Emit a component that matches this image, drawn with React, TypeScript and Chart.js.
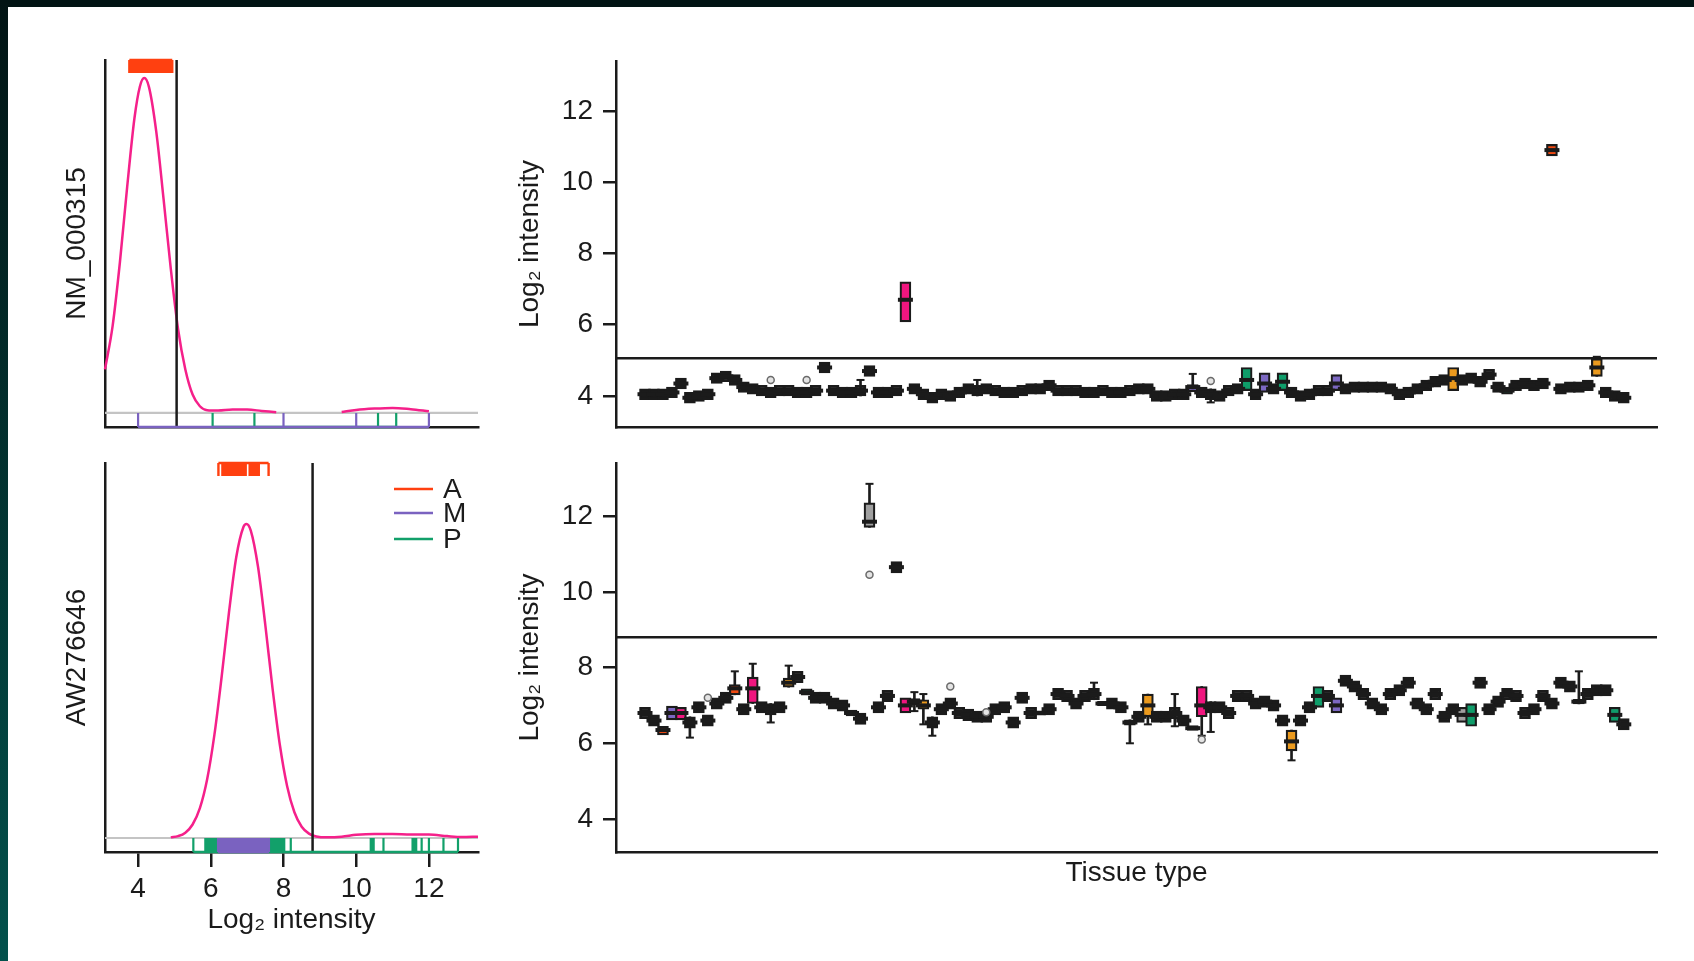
import React, { useEffect, useRef } from "react";
import { Chart, registerables } from "chart.js";

Chart.register(...registerables);

const FONT = "'Liberation Sans', Arial, Helvetica, sans-serif";
Chart.defaults.font.family = FONT;

// ---------------- data ----------------
const geneTop = "NM_000315";
const geneBottom = "AW276646";
const legendLabels = ["A", "M", "P"];
const densityTickValues = [4, 6, 8, 10, 12];
const intensityTickValues = [4, 6, 8, 10, 12];
const axisLabel = "Log\u2082 intensity";
const tissueLabel = "Tissue type";

const topThreshold = 5.06;
const bottomThreshold = 8.8;

// density curves (x = log2 intensity, y = relative density)
const topDensX = [3.09, 3.3, 3.5, 3.7, 3.9, 4.05, 4.17, 4.3, 4.5, 4.7, 4.9, 5.1, 5.3, 5.5, 5.7, 5.9, 6.2, 6.6, 7.0, 7.4, 7.8, 8.7, 9.6, 10.0, 10.5, 11.0, 11.5, 12.0];
const topDensY = [0.13, 0.26, 0.45, 0.675, 0.88, 0.975, 1.0, 0.973, 0.84, 0.64, 0.43, 0.25, 0.13, 0.055, 0.02, 0.008, 0.007, 0.01, 0.01, 0.006, 0.002, null, 0.003, 0.009, 0.013, 0.015, 0.011, 0.005];
const botDensX = [4.9, 5.1, 5.3, 5.5, 5.7, 5.9, 6.1, 6.3, 6.5, 6.7, 6.9, 6.98, 7.1, 7.3, 7.5, 7.7, 7.9, 8.1, 8.3, 8.5, 8.7, 8.9, 9.2, 9.6, 10.0, 10.5, 11.0, 11.5, 12.0, 12.5, 12.9, 13.35];
const botDensY = [0.002, 0.006, 0.017, 0.043, 0.095, 0.187, 0.329, 0.515, 0.718, 0.894, 0.991, 1.0, 0.979, 0.863, 0.678, 0.475, 0.296, 0.165, 0.082, 0.036, 0.014, 0.005, 0.002, 0.004, 0.01, 0.013, 0.013, 0.011, 0.011, 0.006, 0.003, 0.004];

// rug marks (A = absent, M = marginal, P = present)
const topRugA = [3.76, 3.81, 3.86, 3.9, 3.95, 4.0, 4.05, 4.1, 4.15, 4.2, 4.25, 4.3, 4.35, 4.4, 4.45, 4.5, 4.55, 4.6, 4.65, 4.7, 4.75, 4.8, 4.85, 4.9, 4.94];
const topRugM = [4.0, 8.0, 10.0, 12.0];
const topRugP = [6.05, 7.2, 10.6, 11.1];
const botRugA = [6.21, 6.32, 6.37, 6.42, 6.47, 6.52, 6.57, 6.62, 6.67, 6.72, 6.77, 6.82, 6.87, 6.92, 6.96, 7.07, 7.12, 7.17, 7.22, 7.27, 7.32, 7.59];
const botRugM = [6.2, 6.25, 6.3, 6.35, 6.4, 6.45, 6.5, 6.55, 6.6, 6.65, 6.7, 6.75, 6.8, 6.85, 6.9, 6.95, 7.0, 7.05, 7.1, 7.15, 7.2, 7.25, 7.3, 7.35, 7.4, 7.45, 7.5, 7.55, 7.6];
const botRugP = [5.52, 5.85, 5.9, 5.95, 6.0, 6.05, 6.1, 6.15, 7.62, 7.67, 7.72, 7.77, 7.82, 7.87, 7.92, 7.97, 8.02, 8.2, 10.4, 10.44, 10.48, 10.75, 11.55, 11.6, 11.65, 11.8, 12.0, 12.4, 12.8];

// box plots per tissue type (index 0..109)
const topMedian = [4.05,4.05,4.05,4.1,4.35,3.95,4.0,4.05,4.5,4.55, 4.45,4.25,4.2,4.15,4.1,4.15,4.15,4.1,4.1,4.15, 4.8,4.15,4.1,4.1,4.15,4.7,4.1,4.1,4.15,6.7, 4.2,4.05,3.95,4.05,4.0,4.1,4.2,4.15,4.2,4.15, 4.1,4.1,4.15,4.2,4.2,4.3,4.15,4.15,4.15,4.1, 4.1,4.15,4.1,4.1,4.15,4.2,4.2,4.0,4.0,4.05, 4.05,4.25,4.1,4.05,4.0,4.15,4.2,4.45,4.05,4.35, 4.2,4.4,4.1,4.0,4.05,4.15,4.15,4.35,4.2,4.25, 4.25,4.25,4.25,4.2,4.05,4.1,4.2,4.3,4.4,4.45, 4.5,4.45,4.5,4.4,4.6,4.25,4.15,4.3,4.35,4.3, 4.35,10.9,4.2,4.25,4.25,4.3,4.8,4.1,4.0,3.95];
const topQ1 = [3.9,3.9,3.9,3.95,4.2,3.8,3.85,3.9,4.35,4.4, 4.3,4.1,4.05,4.0,3.95,4.0,4.0,3.95,3.95,4.0, 4.65,4.0,3.95,3.95,4.0,4.55,3.95,3.95,4.0,6.08, 4.05,3.9,3.8,3.9,3.85,3.95,4.05,4.0,4.05,4.0, 3.95,3.95,4.0,4.05,4.05,4.15,4.0,4.0,4.0,3.95, 3.95,4.0,3.95,3.95,4.0,4.05,4.05,3.85,3.85,3.9, 3.9,4.12,3.95,3.9,3.85,4.0,4.05,4.15,3.9,4.1, 4.05,4.15,3.95,3.85,3.9,4.0,4.0,4.15,4.05,4.1, 4.1,4.1,4.1,4.05,3.9,3.95,4.05,4.15,4.25,4.3, 4.15,4.3,4.35,4.25,4.45,4.1,4.05,4.15,4.2,4.15, 4.2,10.74,4.05,4.1,4.1,4.15,4.55,3.95,3.85,3.8];
const topQ3 = [4.2,4.2,4.2,4.25,4.5,4.1,4.15,4.2,4.65,4.7, 4.6,4.4,4.35,4.3,4.25,4.3,4.3,4.25,4.25,4.3, 4.95,4.3,4.25,4.25,4.3,4.85,4.25,4.25,4.3,7.2, 4.35,4.2,4.1,4.2,4.15,4.25,4.35,4.3,4.35,4.3, 4.25,4.25,4.3,4.35,4.35,4.45,4.3,4.3,4.3,4.25, 4.25,4.3,4.25,4.25,4.3,4.35,4.35,4.15,4.15,4.2, 4.2,4.32,4.25,4.2,4.15,4.3,4.35,4.8,4.2,4.65, 4.35,4.65,4.25,4.15,4.2,4.3,4.3,4.6,4.35,4.4, 4.4,4.4,4.4,4.35,4.2,4.25,4.35,4.45,4.55,4.6, 4.8,4.6,4.65,4.55,4.75,4.4,4.25,4.45,4.5,4.45, 4.5,11.06,4.35,4.4,4.4,4.45,5.05,4.25,4.15,4.1];
const topColorIdx = [29, 61, 67, 69, 71, 77, 90, 96, 101, 106];
const topColorFill = ["pink", "purple", "green", "purple", "green", "purple", "orange", "green", "red", "orange"];
const topWhiskerIdx = [24, 37, 61, 63, 106];
const topWhiskerLo = [null, null, null, 3.82, null];
const topWhiskerHi = [4.45, 4.45, 4.62, null, 5.1];
const topOutlierIdx = [14, 18, 63];
const topOutlierVal = [4.45, 4.45, 4.42];

const botMedian = [6.8,6.6,6.35,6.8,6.8,6.55,6.95,6.6,7.05,7.2, 7.45,6.9,7.45,6.95,6.9,6.95,7.6,7.75,7.35,7.2, 7.2,7.05,7.0,6.8,6.65,11.85,6.95,7.25,10.65,7.0, 7.1,7.0,6.55,6.9,7.05,6.8,6.75,6.7,6.7,6.9, 6.95,6.55,7.2,6.8,6.8,6.9,7.3,7.25,7.05,7.25, 7.3,7.05,7.05,6.95,6.55,6.7,7.0,6.7,6.7,6.8, 6.6,6.4,7.0,6.95,6.95,6.8,7.25,7.25,7.05,7.1, 7.0,6.6,6.05,6.6,6.95,7.25,7.25,7.0,7.65,7.5, 7.3,7.05,6.9,7.3,7.4,7.6,7.05,6.9,7.3,6.7, 6.9,6.75,6.75,7.6,6.9,7.1,7.3,7.25,6.8,6.9, 7.25,7.05,7.6,7.5,7.1,7.3,7.4,7.4,6.75,6.5];
const botQ1 = [6.65,6.45,6.22,6.62,6.62,6.4,6.8,6.45,6.9,7.05, 7.28,6.75,7.05,6.8,6.75,6.8,7.48,7.6,7.27,7.05, 7.05,6.9,6.85,6.72,6.5,11.7,6.8,7.1,10.5,6.8, 7.02,6.9,6.4,6.75,6.9,6.65,6.6,6.55,6.55,6.75, 6.8,6.4,7.05,6.65,6.74,6.75,7.15,7.1,6.9,7.1, 7.15,6.99,6.9,6.8,6.48,6.55,6.7,6.55,6.55,6.65, 6.45,6.34,6.7,6.8,6.8,6.65,7.1,7.1,6.9,6.95, 6.85,6.45,5.8,6.45,6.8,6.95,7.1,6.8,7.5,7.35, 7.15,6.9,6.75,7.15,7.25,7.45,6.9,6.75,7.15,6.55, 6.75,6.55,6.45,7.45,6.75,6.95,7.15,7.1,6.65,6.75, 7.1,6.9,7.45,7.35,7.04,7.15,7.25,7.25,6.55,6.35];
const botQ3 = [6.95,6.75,6.45,6.98,6.95,6.7,7.1,6.75,7.2,7.35, 7.55,7.05,7.75,7.1,7.05,7.1,7.72,7.9,7.44,7.35, 7.35,7.2,7.15,6.88,6.8,12.35,7.1,7.4,10.8,7.2, 7.18,7.15,6.7,7.05,7.2,6.95,6.9,6.85,6.85,7.05, 7.1,6.7,7.35,6.95,6.86,7.05,7.45,7.4,7.2,7.4, 7.45,7.11,7.2,7.1,6.62,6.85,7.3,6.85,6.85,6.95, 6.75,6.47,7.5,7.1,7.1,6.95,7.4,7.4,7.2,7.25, 7.15,6.75,6.35,6.75,7.1,7.5,7.4,7.2,7.8,7.65, 7.45,7.2,7.05,7.45,7.55,7.75,7.2,7.05,7.45,6.85, 7.05,6.95,7.05,7.75,7.05,7.25,7.45,7.4,6.95,7.05, 7.4,7.2,7.75,7.65,7.16,7.45,7.55,7.55,6.95,6.65];
const botColorIdx = [2, 3, 4, 10, 12, 16, 18, 23, 25, 29, 30, 31, 44, 51, 54, 56, 61, 62, 72, 75, 77, 91, 92, 104, 108];
const botColorFill = ["red", "purple", "pink", "red", "pink", "orange", "green", "orange", "gray", "pink", "green", "orange", "purple", "green", "pink", "orange", "purple", "pink", "orange", "green", "purple", "gray", "green", "green", "green"];
const botWhiskerIdx = [5, 10, 12, 14, 16, 25, 30, 31, 32, 50, 54, 56, 59, 62, 63, 72, 104];
const botWhiskerLo = [6.15, null, null, 6.55, null, null, 6.85, 6.5, 6.2, null, 6.0, 6.5, 6.45, 6.2, 6.3, 5.55, null];
const botWhiskerHi = [null, 7.9, 8.1, null, 8.05, 12.85, 7.35, 7.3, null, 7.6, null, null, 7.3, null, null, null, 7.9];
const botOutlierIdx = [7, 25, 34, 38, 62];
const botOutlierVal = [7.2, 10.45, 7.5, 6.82, 6.1];

// ---------------- styles ----------------
const INK = "#1b1b1b";
const PINK_LINE = "#f5208a";
const RUG_A = "#ff4010";
const RUG_M = "#7a62c0";
const RUG_P = "#12a06a";
const BASE_GRAY = "#c4c4c4";
const PALETTE: Record<string, string> = {
  pink: "#f0167f",
  purple: "#7c68c2",
  green: "#0f9d6a",
  orange: "#eb9a1e",
  red: "#f04a12",
  gray: "#a0a0a0",
};
const TICK_FONT = { family: FONT, size: 28 };

const D_XMIN = 3.09;
const D_XMAX = 13.35;
const B_YMIN = 3.13;
const B_YMAX = 13.4;
const C_XMIN = -3.23;
const C_XMAX = 112.7;

function fixSize(w: number | null, h: number | null) {
  return (s: any) => {
    if (w !== null) s.width = w;
    if (h !== null) s.height = h;
    s.paddingLeft = 0;
    s.paddingRight = 0;
    s.paddingTop = 0;
    s.paddingBottom = 0;
  };
}

const legendPlugin = {
  id: "ampLegend",
  afterDatasetsDraw(chart: any) {
    const { ctx, chartArea } = chart;
    const colors = [RUG_A, RUG_M, RUG_P];
    const offsets = [26, 50, 76];
    ctx.save();
    ctx.font = `28px ${FONT}`;
    ctx.textBaseline = "middle";
    ctx.textAlign = "left";
    legendLabels.forEach((lab, k) => {
      const y = chartArea.top + offsets[k];
      ctx.strokeStyle = colors[k];
      ctx.lineWidth = 2.5;
      ctx.beginPath();
      ctx.moveTo(chartArea.right - 84, y);
      ctx.lineTo(chartArea.right - 45, y);
      ctx.stroke();
      ctx.fillStyle = INK;
      ctx.fillText(lab, chartArea.right - 35, y + 1);
    });
    ctx.restore();
  },
};

function densityConfig(p: any) {
  const pts = p.dx.map((x: number, i: number) => ({ x, y: p.dy[i] }));
  const ticks = (vals: number[], y0: number, y1: number) =>
    vals.flatMap((v) => [{ x: v, y: y0 }, { x: v, y: y1 }, { x: v, y: null }]);
  const hline = (vals: number[], y: number) => [
    { x: Math.min(...vals), y },
    { x: Math.max(...vals), y },
  ];
  const line = (data: any[], color: string, width: number, extra: any = {}) => ({
    type: "line",
    data,
    borderColor: color,
    borderWidth: width,
    pointRadius: 0,
    spanGaps: false,
    clip: false,
    tension: 0,
    ...extra,
  });
  const datasets = [
    line(ticks(p.rugA, p.ymax, p.aBottom), RUG_A, 2.4),
    line(hline(p.rugA, p.ymax), RUG_A, 2.4),
    line(hline(p.rugM, p.ymin), RUG_M, 2.5),
    line(ticks(p.rugM, p.ymin, 0), RUG_M, 2.2),
    line(hline(p.rugP, p.ymin), RUG_P, 2.5),
    line(ticks(p.rugP, p.ymin, 0), RUG_P, 2.2),
    line([{ x: p.threshold, y: p.ymin }, { x: p.threshold, y: p.ymax }], INK, 2.5),
    line(pts, PINK_LINE, 2.5, { cubicInterpolationMode: "monotone" }),
    line([{ x: D_XMIN, y: 0 }, { x: D_XMAX, y: 0 }], BASE_GRAY, 2.2),
  ];
  return {
    type: "line",
    data: { datasets },
    options: {
      animation: false,
      responsive: false,
      events: [],
      layout: { padding: { top: p.padTop, right: 22, left: 0, bottom: 0 } },
      plugins: { legend: { display: false }, tooltip: { enabled: false } },
      scales: {
        x: {
          type: "linear",
          min: D_XMIN,
          max: D_XMAX,
          afterBuildTicks: (s: any) => {
            s.ticks = densityTickValues.map((v) => ({ value: v }));
          },
          grid: {
            display: p.showTicks,
            drawOnChartArea: false,
            drawTicks: true,
            tickLength: 15,
            color: INK,
            lineWidth: 2.5,
          },
          border: { display: true, color: INK, width: 2.5 },
          ticks: {
            display: p.showTicks,
            autoSkip: false,
            maxRotation: 0,
            font: TICK_FONT,
            color: INK,
            padding: 5,
          },
          title: {
            display: p.showTicks,
            text: axisLabel,
            font: TICK_FONT,
            color: INK,
            padding: { top: 0, bottom: 24 },
          },
          afterFit: fixSize(null, p.xHeight),
        },
        y: {
          type: "linear",
          min: p.ymin,
          max: p.ymax,
          grid: { display: false },
          border: { display: true, color: INK, width: 2.5 },
          ticks: { display: false },
          title: {
            display: true,
            text: p.gene,
            font: TICK_FONT,
            color: INK,
            padding: { top: 60, bottom: 0 },
          },
          afterFit: fixSize(105, null),
        },
      },
    },
    plugins: p.legend ? [legendPlugin] : [],
  };
}

function boxConfig(p: any) {
  const idx = p.median.map((_: number, i: number) => i);
  const fills = idx.map((i: number) => {
    const k = p.colorIdx.indexOf(i);
    return k >= 0 ? PALETTE[p.colorFill[k]] : INK;
  });
  const boxes = idx.map((i: number) => ({ x: i, y: [p.q1[i], p.q3[i]] }));
  const medians = idx.map((i: number) => ({ x: i, y: p.median[i] }));
  const whiskers = p.whIdx.map((i: number, k: number) => ({
    x: i,
    y: [p.whLo[k] ?? p.q1[i], p.whHi[k] ?? p.q3[i]],
  }));
  const caps: any[] = [];
  p.whIdx.forEach((i: number, k: number) => {
    if (p.whLo[k] != null) caps.push({ x: i, y: p.whLo[k] });
    if (p.whHi[k] != null) caps.push({ x: i, y: p.whHi[k] });
  });
  const outliers = p.outIdx.map((i: number, k: number) => ({ x: i, y: p.outVal[k] }));
  const datasets = [
    {
      type: "scatter",
      data: outliers,
      pointStyle: "circle",
      pointRadius: 3.5,
      pointBackgroundColor: "#e4e4e4",
      pointBorderColor: "#6a6a6a",
      pointBorderWidth: 1.5,
    },
    {
      type: "scatter",
      data: medians,
      pointStyle: "line",
      pointRadius: 7.5,
      pointBorderWidth: 4,
      pointBorderColor: INK,
    },
    {
      type: "bar",
      data: boxes,
      backgroundColor: fills,
      borderColor: INK,
      borderWidth: 2.2,
      borderSkipped: false,
      barThickness: 11,
      grouped: false,
    },
    {
      type: "scatter",
      data: caps,
      pointStyle: "line",
      pointRadius: 4,
      pointBorderWidth: 2,
      pointBorderColor: INK,
    },
    {
      type: "bar",
      data: whiskers,
      backgroundColor: INK,
      borderWidth: 0,
      barThickness: 2,
      grouped: false,
    },
    {
      type: "line",
      data: [{ x: C_XMIN, y: p.threshold }, { x: C_XMAX, y: p.threshold }],
      borderColor: INK,
      borderWidth: 2.5,
      pointRadius: 0,
      clip: false,
    },
  ];
  return {
    type: "bar",
    data: { datasets },
    options: {
      animation: false,
      responsive: false,
      events: [],
      layout: { padding: { top: p.padTop, right: 37, left: 0, bottom: 0 } },
      plugins: { legend: { display: false }, tooltip: { enabled: false } },
      scales: {
        x: {
          type: "linear",
          min: C_XMIN,
          max: C_XMAX,
          offset: false,
          grid: { display: false, offset: false },
          border: { display: true, color: INK, width: 2.5 },
          ticks: { display: false },
          title: {
            display: p.showTitle,
            text: tissueLabel,
            font: TICK_FONT,
            color: INK,
            padding: { top: 0, bottom: 71 },
          },
          afterFit: fixSize(null, p.xHeight),
        },
        y: {
          type: "linear",
          min: B_YMIN,
          max: B_YMAX,
          beginAtZero: false,
          afterBuildTicks: (s: any) => {
            s.ticks = intensityTickValues.map((v) => ({ value: v }));
          },
          grid: {
            display: true,
            drawOnChartArea: false,
            drawTicks: true,
            tickLength: 13,
            color: INK,
            lineWidth: 2.5,
          },
          border: { display: true, color: INK, width: 2.5 },
          ticks: { autoSkip: false, font: TICK_FONT, color: INK, padding: 10 },
          title: {
            display: true,
            text: axisLabel,
            font: TICK_FONT,
            color: INK,
            padding: { top: 13, bottom: 0 },
          },
          afterFit: fixSize(116, null),
        },
      },
    },
  };
}

const topDensityPanel = {
  dx: topDensX, dy: topDensY, rugA: topRugA, rugM: topRugM, rugP: topRugP,
  ymin: -0.042, ymax: 1.054, aBottom: 1.015, threshold: topThreshold,
  gene: geneTop, showTicks: false, legend: false, padTop: 60, xHeight: 13,
};
const botDensityPanel = {
  dx: botDensX, dy: botDensY, rugA: botRugA, rugM: botRugM, rugP: botRugP,
  ymin: -0.0446, ymax: 1.194, aBottom: 1.153, threshold: bottomThreshold,
  gene: geneBottom, showTicks: true, legend: true, padTop: 23, xHeight: 109,
};
const topBoxPanel = {
  median: topMedian, q1: topQ1, q3: topQ3, colorIdx: topColorIdx, colorFill: topColorFill,
  whIdx: topWhiskerIdx, whLo: topWhiskerLo, whHi: topWhiskerHi,
  outIdx: topOutlierIdx, outVal: topOutlierVal, threshold: topThreshold,
  showTitle: false, padTop: 61, xHeight: 13,
};
const botBoxPanel = {
  median: botMedian, q1: botQ1, q3: botQ3, colorIdx: botColorIdx, colorFill: botColorFill,
  whIdx: botWhiskerIdx, whLo: botWhiskerLo, whHi: botWhiskerHi,
  outIdx: botOutlierIdx, outVal: botOutlierVal, threshold: bottomThreshold,
  showTitle: true, padTop: 23, xHeight: 109,
};

function ChartBox({ left, top, width, height, make }: any) {
  const ref = useRef<HTMLCanvasElement | null>(null);
  useEffect(() => {
    if (!ref.current) return;
    const chart = new Chart(ref.current, make());
    return () => chart.destroy();
  }, []);
  return (
    <canvas
      ref={ref}
      width={width}
      height={height}
      style={{ position: "absolute", left, top, width, height, display: "block" }}
    />
  );
}

export default function App() {
  useEffect(() => {
    document.body.style.margin = "0";
  }, []);
  return (
    <div
      style={{
        position: "fixed",
        left: 0,
        top: 0,
        width: 1694,
        height: 961,
        background: "#ffffff",
        overflow: "hidden",
      }}
    >
      <ChartBox left={0} top={0} width={500} height={440} make={() => densityConfig(topDensityPanel)} />
      <ChartBox left={0} top={440} width={500} height={521} make={() => densityConfig(botDensityPanel)} />
      <ChartBox left={500} top={0} width={1194} height={440} make={() => boxConfig(topBoxPanel)} />
      <ChartBox left={500} top={440} width={1194} height={521} make={() => boxConfig(botBoxPanel)} />
      <div style={{ position: "absolute", left: 0, top: 0, width: 1694, height: 7, background: "#021414" }} />
      <div
        style={{
          position: "absolute",
          left: 0,
          top: 0,
          width: 8,
          height: 961,
          background: "linear-gradient(#021414, #03514c)",
        }}
      />
    </div>
  );
}
